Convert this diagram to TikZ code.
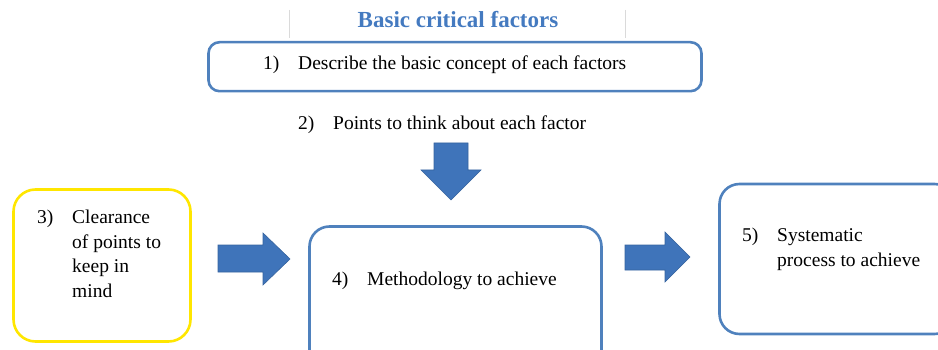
\documentclass[tikz,border=0pt]{standalone}
\usepackage{fontspec}
\setmainfont{Liberation Serif}
\definecolor{boxblue}{RGB}{79,129,189}
\definecolor{arrowblue}{RGB}{63,116,186}
\definecolor{titleblue}{RGB}{68,122,192}
\definecolor{boxyellow}{RGB}{255,230,0}
\definecolor{rulegray}{RGB}{218,218,218}
\tikzset{
  stepbox/.style={draw=boxblue, line width=2.6pt, rounded corners=20pt},
  yellowbox/.style={draw=boxyellow, line width=2.6pt, rounded corners=22pt},
  itemtext/.style={anchor=base west, inner sep=0pt, font=\fontsize{19.5}{24.5}\selectfont},
  blockarrow/.style={fill=arrowblue, draw=arrowblue!85!black, line width=0.6pt},
}
\newcommand{\numlbl}[1]{\makebox[35pt][l]{#1)}}
\begin{document}
\begin{tikzpicture}[x=1pt,y=-1pt]
  \useasboundingbox (0,0) rectangle (938,350);
  \clip (0,0) rectangle (938,350);
  % title with the faint table rules
  \draw[rulegray, line width=0.8pt] (289,10) -- (289,38);
  \draw[rulegray, line width=0.8pt] (625,10) -- (625,38);
  \node[anchor=base, inner sep=0pt, text=titleblue, font=\fontsize{23}{26}\selectfont\bfseries] (title) at (458,28) {Basic critical factors};
  % boxes
  \node[stepbox, rounded corners=11pt, minimum width=493pt, minimum height=49pt] (b1) at (455,66.7) {};
  \node[yellowbox, minimum width=177pt, minimum height=152pt] (b3) at (102,265.5) {};
  \node[stepbox, minimum width=292pt, minimum height=143pt] (b4) at (455.5,298) {};
  \node[stepbox, minimum width=235pt, minimum height=150pt] (b5) at (837,259) {};
  % texts
  \node[itemtext] (t1) at (263,70) {\numlbl{1}Describe the basic concept of each factors};
  \node[itemtext] (t2) at (298,130) {\numlbl{2}Points to think about each factor};
  \node[itemtext] (t3) at (37,224) {\begin{tabular}[t]{@{}p{35pt}@{}l@{}}3) & Clearance\\ & of points to\\ & keep in\\ & mind\end{tabular}};
  \node[itemtext] (t4) at (332,285) {\numlbl{4}Methodology to achieve};
  \node[itemtext] (t5) at (742,242) {\begin{tabular}[t]{@{}p{35pt}@{}l@{}}5) & Systematic\\ & process to achieve\end{tabular}};
  % block arrows
  \draw[blockarrow] (434,143) -- (468,143) -- (468,170) -- (481,170) -- (451,200) -- (421,170) -- (434,170) -- cycle;
  \draw[blockarrow] (218,245) -- (263,245) -- (263,233) -- (290,259) -- (263,285) -- (263,272) -- (218,272) -- cycle;
  \draw[blockarrow] (625,245) -- (665,245) -- (665,232) -- (690,257) -- (665,282) -- (665,270) -- (625,270) -- cycle;
\end{tikzpicture}
\end{document}
